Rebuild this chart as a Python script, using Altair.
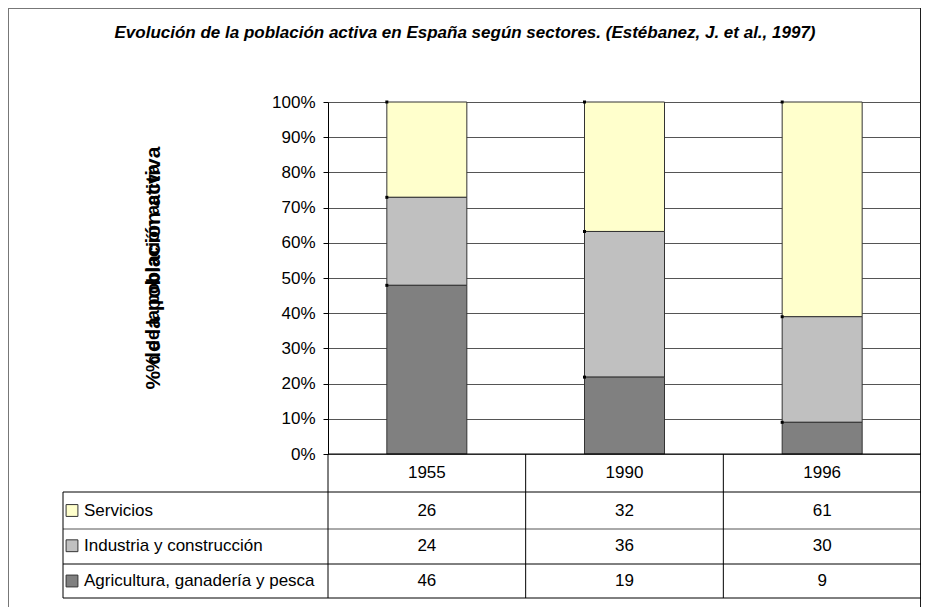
import altair as alt
import pandas as pd

# ---- data ----
years = ["1955", "1990", "1996"]
sectors = ["Servicios", "Industria y construcción", "Agricultura, ganadería y pesca"]
servicios = [26, 32, 61]
industria = [24, 36, 30]
agricultura = [46, 19, 9]
colors = ["#FFFFCC", "#C0C0C0", "#808080"]
title_text = "Evolución de la población activa en España según sectores. (Estébanez, J. et al., 1997)"
y_title = "% de la población activa"
FONT = "Liberation Sans"

series = {sectors[0]: servicios, sectors[1]: industria, sectors[2]: agricultura}
stack_order = {sectors[2]: 0, sectors[1]: 1, sectors[0]: 2}

rows = []
for s, vals in series.items():
    for y, v in zip(years, vals):
        rows.append({"year": y, "sector": s, "value": v, "order": stack_order[s]})
df = pd.DataFrame(rows)

# tops of each stacked segment (for the small corner markers)
tops = []
for i, y in enumerate(years):
    tot = servicios[i] + industria[i] + agricultura[i]
    tops.append({"year": y, "top": agricultura[i] / tot})
    tops.append({"year": y, "top": (agricultura[i] + industria[i]) / tot})
    tops.append({"year": y, "top": 1.0})
df_tops = pd.DataFrame(tops)
df_years = pd.DataFrame({"year": years})
df_leg = pd.DataFrame({"sector": sectors})
one = pd.DataFrame({"k": [0]})

W, H = 593, 352
xscale = alt.Scale(domain=years, paddingInner=0, paddingOuter=0)
colscale = alt.Scale(domain=sectors, range=colors)
rowscale = alt.Scale(type="point", domain=sectors, range=[408.5, 479], padding=0)

bars = alt.Chart(df).mark_bar(size=80, stroke="#333333", strokeWidth=1).encode(
    x=alt.X("year:N", scale=xscale, axis=None),
    y=alt.Y("value:Q", stack="normalize", scale=alt.Scale(domain=[0, 1]),
            axis=alt.Axis(values=[i / 10 for i in range(11)], format=".0%", title=None,
                          labelFontSize=17, labelColor="black", labelFont=FONT,
                          tickColor="black", tickSize=5, labelPadding=8,
                          domainColor="black", gridColor="#555555", grid=True)),
    color=alt.Color("sector:N", scale=colscale, legend=None),
    order=alt.Order("order:Q"),
)

corners = alt.Chart(df_tops).mark_square(size=9, color="black", opacity=1, xOffset=-40).encode(
    x=alt.X("year:N", scale=xscale, axis=None),
    y=alt.Y("top:Q", scale=alt.Scale(domain=[0, 1]), axis=None),
)

def hline(y, x1, x2, color="black"):
    return alt.Chart(one).mark_rule(color=color, strokeWidth=1).encode(
        x=alt.value(x1), x2=alt.value(x2), y=alt.value(y))

def vline(x, y1, y2, color="black", width=1):
    return alt.Chart(one).mark_rule(color=color, strokeWidth=width).encode(
        x=alt.value(x), y=alt.value(y1), y2=alt.value(y2))

axis0 = hline(H, 0, W)
table_h = [hline(390, -265, W), hline(427, -265, W, "#555555"), hline(462, -265, W), hline(496, -265, W)]
table_v = [vline(-265, 390, 496)]
col_lines = alt.Chart(df_years).mark_rule(color="black", strokeWidth=1).encode(
    x=alt.X("year:N", scale=xscale, bandPosition=0, axis=None),
    y=alt.value(H), y2=alt.value(496),
)

year_labels = alt.Chart(df_years).mark_text(fontSize=17, font=FONT, color="black", baseline="middle").encode(
    x=alt.X("year:N", scale=xscale, axis=None),
    y=alt.value(371),
    text="year:N",
)

cells = alt.Chart(df).mark_text(fontSize=17, font=FONT, color="black", baseline="middle").encode(
    x=alt.X("year:N", scale=xscale, axis=None),
    y=alt.Y("sector:N", scale=rowscale, axis=None),
    text="value:Q",
)

leg_sw = alt.Chart(df_leg).mark_square(size=140, stroke="#333333", strokeWidth=1, opacity=1).encode(
    x=alt.value(-256),
    y=alt.Y("sector:N", scale=rowscale, axis=None),
    fill=alt.Fill("sector:N", scale=colscale, legend=None),
)
leg_txt = alt.Chart(df_leg).mark_text(fontSize=17, font=FONT, color="black", align="left", baseline="middle").encode(
    x=alt.value(-244),
    y=alt.Y("sector:N", scale=rowscale, axis=None),
    text="sector:N",
)

title = alt.Chart(one).mark_text(text=title_text, fontSize=17, font=FONT, fontWeight="bold",
                                 fontStyle="italic", color="black", baseline="middle").encode(
    x=alt.value(137), y=alt.value(-69))

ytitle1 = alt.Chart(one).mark_text(text=y_title, fontSize=18, font=FONT, fontWeight="bold", angle=270,
                                   color="black", baseline="middle").encode(x=alt.value(-174), y=alt.value(166))
ytitle2 = alt.Chart(one).mark_text(text=y_title, fontSize=21, font=FONT, fontWeight="bold", angle=270,
                                   color="black", baseline="middle").encode(x=alt.value(-174), y=alt.value(166))

frame = alt.Chart(one).mark_rect(fill=None, stroke="#777777", strokeWidth=2).encode(
    x=alt.value(-320), x2=alt.value(W), y=alt.value(-94), y2=alt.value(530))
right_edge = vline(W, -94, 530, "black", 1.5)

chart = alt.layer(
    frame, bars, corners, axis0, *table_h, *table_v, col_lines, year_labels, cells,
    leg_sw, leg_txt, title, ytitle1, ytitle2, right_edge,
).resolve_scale(y="independent").properties(
    width=W, height=H,
    autosize=alt.AutoSizeParams(type="none"),
    padding={"left": 320, "top": 94, "right": 0, "bottom": 153},
).configure_view(stroke=None).configure(font=FONT)

chart.save("out.html", embed_options={"renderer": "svg", "actions": False})
